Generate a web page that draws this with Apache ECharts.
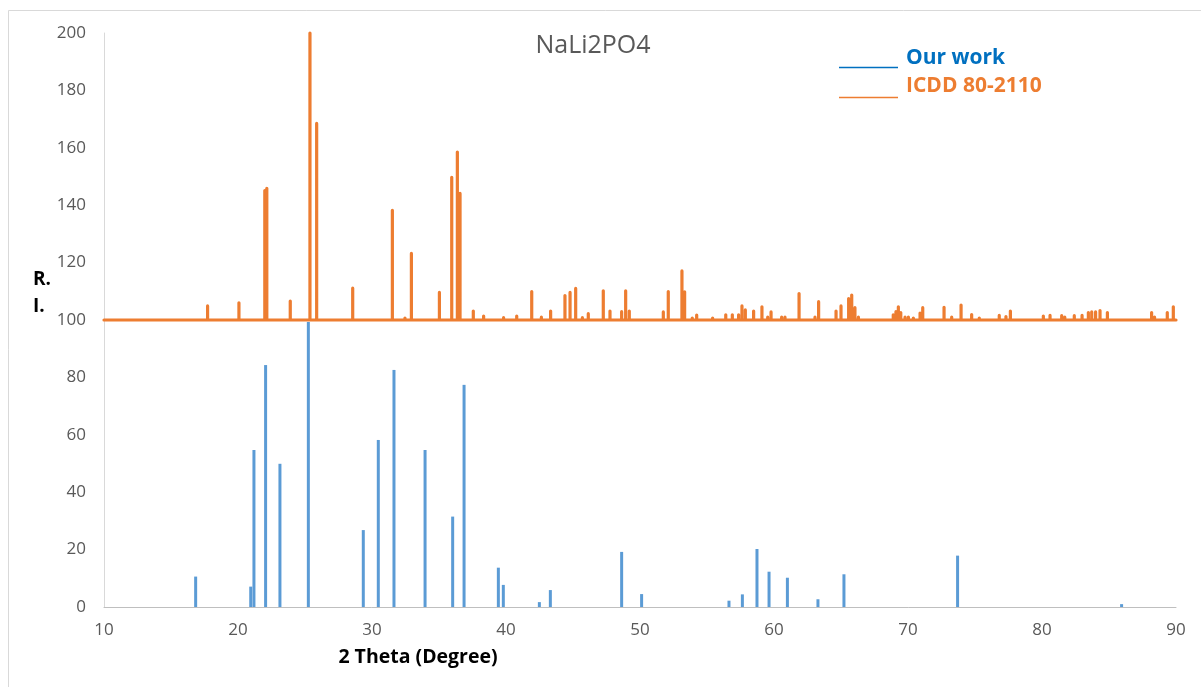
<!DOCTYPE html>
<html><head><meta charset="utf-8">
<script src="https://cdn.jsdelivr.net/npm/echarts@6/dist/echarts.min.js"></script>
<style>html,body{margin:0;padding:0;background:#fff}#c{width:1201px;height:687px}</style>
</head><body><div id="c"></div>
<script>
// ---- data ----
const chartTitle = 'NaLi2PO4';
const seriesNames = ['Our work', 'ICDD 80-2110'];
const ourWorkTheta = [16.84, 20.95, 21.19, 22.06, 23.13, 25.25, 29.35, 30.47, 31.64, 33.96, 36.02, 36.87, 39.43, 39.8, 42.49, 43.31, 48.63, 50.12, 56.64, 57.64, 58.73, 59.63, 61.0, 63.28, 65.22, 73.7, 85.94];
const ourWorkIntensity = [10.6, 7.1, 54.7, 84.3, 49.9, 99.3, 26.8, 58.2, 82.6, 54.7, 31.5, 77.4, 13.7, 7.7, 1.7, 5.9, 19.2, 4.5, 2.2, 4.4, 20.2, 12.3, 10.2, 2.7, 11.4, 17.9, 1.0];
const icddBaseline = 100;
const icddTheta = [17.73, 20.07, 22.0, 22.15, 23.9, 25.37, 25.87, 28.56, 31.52, 32.46, 32.94, 35.03, 35.95, 36.37, 36.57, 37.56, 38.33, 39.82, 40.47, 40.8, 41.92, 42.64, 42.93, 43.33, 44.4, 44.78, 45.2, 45.7, 46.14, 47.26, 47.76, 48.63, 48.93, 49.2, 51.12, 51.74, 52.11, 53.13, 53.33, 53.9, 54.23, 55.42, 56.4, 56.89, 57.36, 57.61, 57.86, 58.48, 59.1, 59.53, 59.78, 60.57, 60.82, 61.19, 61.87, 63.06, 63.33, 64.63, 65.0, 65.57, 65.8, 66.04, 66.3, 66.87, 67.1, 67.9, 68.4, 68.9, 69.1, 69.28, 69.46, 69.78, 70.03, 70.4, 70.9, 71.1, 71.64, 72.69, 73.26, 73.96, 74.75, 75.32, 76.24, 76.81, 77.31, 77.64, 78.1, 78.66, 79.1, 79.5, 80.1, 80.6, 81.47, 81.7, 82.41, 82.99, 83.46, 83.71, 84.0, 84.33, 84.88, 85.82, 87.07, 88.18, 88.4, 89.35, 89.8];
const icddIntensity = [104.9, 106.0, 145.1, 145.9, 106.6, 200, 168.5, 111.1, 138.2, 100.7, 123.2, 109.6, 149.7, 158.5, 144.1, 103.1, 101.4, 100.8, 100.6, 101.4, 109.9, 101, 100.6, 103.1, 108.5, 109.6, 111.0, 100.8, 102.2, 110.2, 103.1, 102.9, 110.2, 103.1, 100.3, 102.8, 109.9, 117.1, 109.8, 100.7, 101.7, 100.7, 101.8, 101.8, 101.8, 104.9, 103.5, 103.1, 104.6, 101, 102.8, 101, 101, 100.5, 109.2, 101, 106.4, 103.1, 104.9, 107.5, 108.7, 104.3, 101, 100.5, 100.5, 100.5, 100.5, 101.8, 102.9, 104.6, 102.6, 101, 101, 100.7, 102.4, 104.3, 100.5, 104.4, 101, 105.2, 101.9, 100.7, 100.5, 101.6, 101.2, 103.1, 100.5, 100.5, 100.5, 100.5, 101.4, 101.6, 101.5, 101, 101.5, 101.6, 102.6, 102.8, 102.8, 103.3, 102.6, 100.5, 100.4, 102.6, 101, 102.6, 104.6];
const xMin = 10, xMax = 90, xStep = 10;
const yMin = 0, yMax = 200, yStep = 20;

// ---- build series data ----
const blueData = ourWorkTheta.map((t, i) => [t, ourWorkIntensity[i]]);
const orangeData = [[xMin, icddBaseline]];
icddTheta.forEach((t, i) => {
  orangeData.push([t, icddBaseline], [t, icddIntensity[i]], [t, icddBaseline]);
});
orangeData.push([xMax, icddBaseline]);

const FONT = '"Open Sans", sans-serif';
const chart = echarts.init(document.getElementById('c'), null, {renderer: 'canvas'});
chart.setOption({
  animation: false,
  backgroundColor: '#ffffff',
  grid: {left: 104, right: 25, top: 33, bottom: 80, containLabel: false},
  xAxis: {
    type: 'value', min: xMin, max: xMax, interval: xStep,
    axisLine: {show: true, lineStyle: {color: '#bfbfbf', width: 1}},
    axisTick: {show: false},
    splitLine: {show: false},
    axisLabel: {color: '#595959', fontSize: 17, fontFamily: FONT, margin: 15}
  },
  yAxis: {
    type: 'value', min: yMin, max: yMax, interval: yStep,
    axisLine: {show: true, lineStyle: {color: '#d9d9d9', width: 1}},
    axisTick: {show: false},
    splitLine: {show: false},
    axisLabel: {color: '#595959', fontSize: 17, fontFamily: FONT, margin: 18}
  },
  series: [
    {
      name: seriesNames[0], type: 'bar', data: blueData, barWidth: 3,
      itemStyle: {color: '#5b9bd5'}, z: 2
    },
    {
      name: seriesNames[1], type: 'line', data: orangeData, showSymbol: false,
      symbol: 'none', clip: false,
      lineStyle: {color: '#ed7d31', width: 3.2, join: 'round', cap: 'round'}, z: 3
    }
  ],
  graphic: [
    {type: 'rect', left: 6, top: 8, shape: {width: 1300, height: 800}, style: {fill: 'none', stroke: '#d9d9d9', lineWidth: 1}, silent: true},
    {type: 'text', x: 593, y: 46, style: {text: chartTitle, fill: '#595959', font: '25px ' + FONT, textAlign: 'center', textVerticalAlign: 'middle'}},
    {type: 'line', shape: {x1: 839, y1: 67.5, x2: 898, y2: 67.5}, style: {stroke: '#0070c0', lineWidth: 1.5}},
    {type: 'text', x: 906, y: 58, style: {text: seriesNames[0], fill: '#0070c0', font: 'bold 21px ' + FONT, textAlign: 'left', textVerticalAlign: 'middle'}},
    {type: 'line', shape: {x1: 839, y1: 97.5, x2: 898, y2: 97.5}, style: {stroke: '#ed7d31', lineWidth: 1.5}},
    {type: 'text', x: 906, y: 86, style: {text: seriesNames[1], fill: '#ed7d31', font: 'bold 21px ' + FONT, textAlign: 'left', textVerticalAlign: 'middle'}},
    {type: 'text', x: 33, y: 280, style: {text: 'R.', fill: '#000', font: 'bold 19px ' + FONT, textAlign: 'left', textVerticalAlign: 'middle'}},
    {type: 'text', x: 33, y: 307, style: {text: 'I.', fill: '#000', font: 'bold 19px ' + FONT, textAlign: 'left', textVerticalAlign: 'middle'}},
    {type: 'text', x: 418, y: 657, style: {text: '2 Theta (Degree)', fill: '#000', font: 'bold 19.5px ' + FONT, textAlign: 'center', textVerticalAlign: 'middle'}}
  ]
});
</script>
</body></html>
